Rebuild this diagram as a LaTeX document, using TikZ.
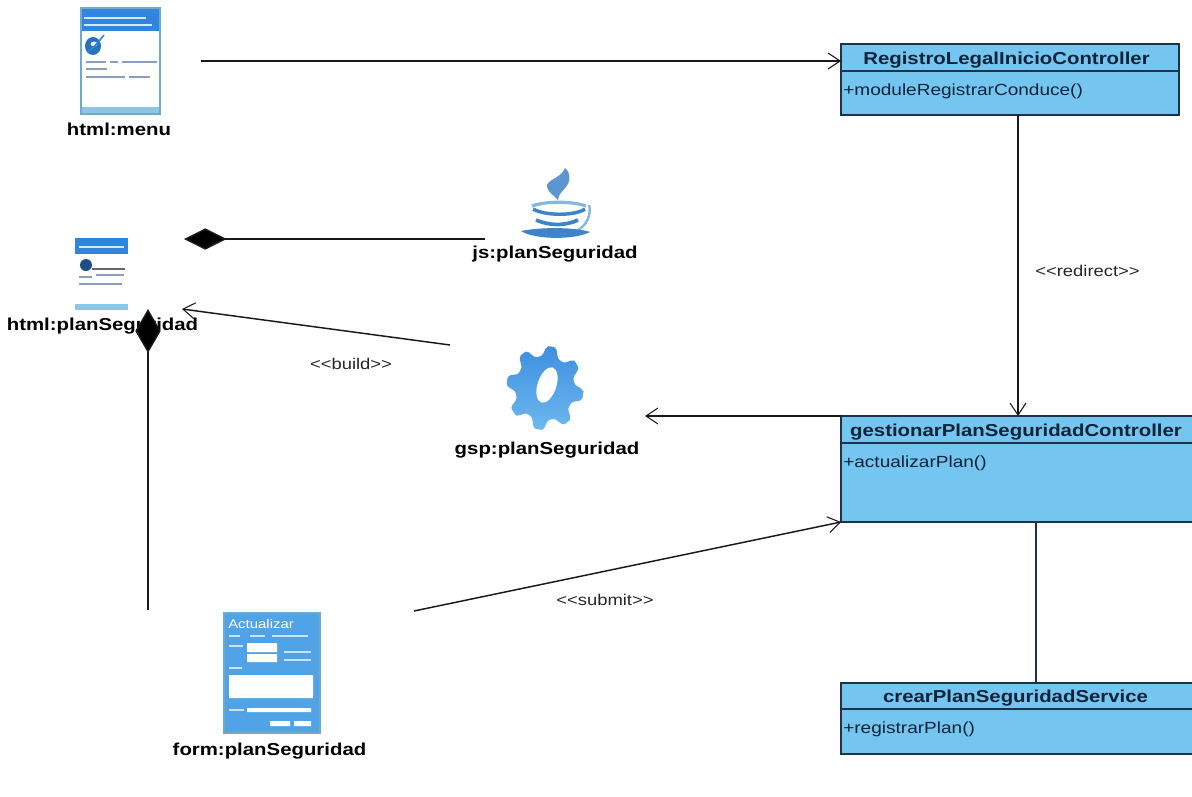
\documentclass[tikz,border=0pt]{standalone}
\usepackage{fontspec}
\setmainfont{Liberation Sans}
\newfontfamily\stretched[FakeStretch=1.18]{Liberation Sans}
\usetikzlibrary{arrows.meta,calc}
\definecolor{clsfill}{HTML}{74C6F0}
\definecolor{clsline}{HTML}{1C3448}
\definecolor{clstext}{HTML}{0E2238}
\definecolor{iconblue}{HTML}{4FA3E6}
\definecolor{iconhead}{HTML}{2F86DC}
\definecolor{iconbar}{HTML}{8CC6E4}
\definecolor{iconframe}{HTML}{6FA9CC}
\definecolor{icontext}{HTML}{8A9CC0}
\definecolor{geartop}{HTML}{3F8FE0}
\definecolor{gearbot}{HTML}{6DB8EE}
\definecolor{cupdark}{HTML}{3F84C8}
\definecolor{cuplight}{HTML}{86B6E2}
\tikzset{
  x=0.75pt,y=-0.75pt,
  conn/.style={line width=1.1pt,color=black!90},
  openarrow/.style={conn,-{Straight Barb[length=9pt,width=12pt,line width=0.8pt]}},
  compo/.style={conn,-{Diamond[length=32pt,width=16pt,fill=black,sep=0pt]}},
  compoup/.style={conn,-{Diamond[length=33pt,width=19pt,fill=black,sep=0pt]}},
  assoc/.style={line width=1.1pt,color=clsline},
  clsbox/.style={draw=clsline,line width=1.1pt,fill=clsfill,inner sep=0pt,outer sep=0pt},
  clstitle/.style={inner sep=0pt,font=\stretched\bfseries\fontsize{12.95}{15}\selectfont,text=clstext},
  clsmethod/.style={anchor=west,inner sep=0pt,font=\stretched\fontsize{12.1}{15}\selectfont,text=clstext},
  iconlabel/.style={inner sep=0pt,font=\stretched\bfseries\fontsize{12.95}{15}\selectfont,text=black},
  stereo/.style={inner sep=0pt,font=\stretched\fontsize{11.7}{14}\selectfont,text=black!85},
  tline/.style={line width=1.1pt,color=icontext},
  wline/.style={line width=1pt,color=white},
}
\begin{document}
\begin{tikzpicture}
\useasboundingbox (0,0) rectangle (1192,796);

% ---- html:menu icon
\node[draw=iconframe,line width=0.8pt,fill=white,minimum width=59pt,minimum height=79.5pt,inner sep=0pt] (menuicon) at (120.5,61) {};
\fill[iconhead] (81,8) rectangle (160,31);
\draw[white!80!iconhead,line width=0.9pt] (84,18) -- (146,18) (84,25) -- (152,25);
\fill[iconbar] (81,107) rectangle (160,114);
\draw[iconframe,line width=0.8pt] (81,8) rectangle (160,114);
\fill[iconhead!85!black,even odd rule] (93,46) ellipse [x radius=8,y radius=9] (94,44) ellipse [x radius=3.5,y radius=2.5];
\draw[iconhead,line width=1.2pt] (87,52) .. controls (93,49) and (100,40) .. (104,35);
\draw[tline] (86,62) -- (106,62) (110,62) -- (118,62) (122,62) -- (157,62) (86,69) -- (107,69) (86,77) -- (125,77) (129,77) -- (150,77);
\node[iconlabel] (menulabel) at (119,129) {html:menu};

% ---- html:planSeguridad icon
\node[inner sep=0pt,minimum width=40pt,minimum height=54pt] (planicon) at (101.5,274) {};
\fill[iconhead] (75,238) rectangle (128,254);
\draw[white!80!iconhead,line width=0.8pt] (79,247) -- (124,247);
\fill[iconhead!60!black] (86,265) circle (6);
\draw[line width=0.8pt,color=black!60] (92,269) -- (125,269);
\draw[tline] (79,277) -- (92,277) (96,275) -- (124,275) (79,284) -- (122,284);
\fill[iconbar] (75,304) rectangle (128,310);
\node[iconlabel] (planlabel) at (102.5,326.5) {html:planSeguridad};

% ---- js icon
\node[inner sep=0pt,minimum width=40pt,minimum height=50pt] (jsicon) at (557,203) {};
\fill[cupdark!85] (565,168) .. controls (571,173) and (570,180) .. (568,184) .. controls (565,190) and (558,193) .. (558,200) .. controls (552,194) and (546,190) .. (547,185) .. controls (549,179) and (561,178) .. (565,168) -- cycle;
\draw[cuplight,line width=2.4pt] (532,206) .. controls (545,201) and (572,201) .. (586,206);
\draw[cupdark,line width=2.6pt] (533,209) .. controls (545,216) and (575,216) .. (585,209);
\draw[cuplight,line width=1.8pt] (589,205) .. controls (592,214) and (586,228) .. (574,232);
\draw[cupdark,line width=2.8pt] (536,220) .. controls (550,226) and (565,226) .. (578,220);
\fill[cupdark] (521,231) .. controls (540,227) and (575,227) .. (590,232) .. controls (575,240) and (535,240) .. (521,231) -- cycle;
\node[iconlabel] (jslabel) at (555,254.5) {js:planSeguridad};

% ---- gsp gear icon
\node[inner sep=0pt,minimum width=57pt,minimum height=62pt] (gspicon) at (545,388) {};
\path[even odd rule,top color=geartop,bottom color=gearbot,rounded corners=2pt]
  plot[domain=0:358,samples=90] ({545+(34+4.5*max(min(2*sin(8*\x+10),1),-1))*cos(\x)},{388+(37+5*max(min(2*sin(8*\x+10),1),-1))*sin(\x)}) -- cycle
  [rotate around={-18:(547,385)}] (547,385) ellipse [x radius=9.5,y radius=18.5];
\node[iconlabel] (gsplabel) at (547,450.5) {gsp:planSeguridad};

% ---- form icon
\node[draw=iconframe,line width=0.8pt,fill=iconblue,minimum width=72pt,minimum height=90pt,inner sep=0pt] (formicon) at (272,673) {};
\node[inner sep=0pt,anchor=west,text=white,font=\stretched\fontsize{9.5}{11}\selectfont] (formtitle) at (228,624) {Actualizar};
\fill[white] (247,643) rectangle (277,652) (247,654) rectangle (277,662) (229,675) rectangle (313,698);
\fill[white] (247,708) rectangle (311,712) (270,721) rectangle (290,726) (294,721) rectangle (311,726);
\draw[line width=1pt,color=white!70!iconblue] (229,636) -- (240,636) (250,636) -- (265,636) (272,636) -- (308,636)
  (229,646) -- (243,646) (284,652) -- (311,652) (284,660) -- (311,660) (229,668) -- (242,668) (229,710) -- (244,710);
\node[iconlabel] (formlabel) at (269.5,751.5) {form:planSeguridad};

% ---- class boxes
\node[clsbox,minimum width=253.5pt,minimum height=53.25pt] (reg) at (1010,79.5) {};
\draw[assoc] (841,71) -- (1179,71);
\node[clstitle] (regtitle) at (1006.5,60) {RegistroLegalInicioController};
\node[clsmethod] (regm) at (843,91) {+moduleRegistrarConduce()};

\node[clsbox,minimum width=264.75pt,minimum height=79.5pt] (ges) at (1017.5,469) {};
\draw[assoc] (841,443) -- (1192,443);
\node[clstitle] (gestitle) at (1016,432) {gestionarPlanSeguridadController};
\node[clsmethod] (gesm) at (843,463) {+actualizarPlan()};

\node[clsbox,minimum width=264.75pt,minimum height=53.25pt] (cre) at (1017.5,718.5) {};
\draw[assoc] (841,709) -- (1192,709);
\node[clstitle] (cretitle) at (1015.5,698) {crearPlanSeguridadService};
\node[clsmethod] (crem) at (843,729) {+registrarPlan()};

% ---- free ends
\coordinate (menuout) at (201,61);
\coordinate (jsout) at (485,239);
\coordinate (planin) at (184,239);
\coordinate (gspout) at (450,345);
\coordinate (planarrow) at (182,309);
\coordinate (formup) at (148,610);
\coordinate (plandown) at (148,309);
\coordinate (gspin) at (645,416);
\coordinate (formout) at (414,611);
\coordinate (redirx) at (1018,0);
\coordinate (linkx) at (1036,0);

% ---- connectors
\draw[openarrow] (menuout) -- (menuout -| reg.west);
\draw[compo] (jsout) -- (planin);
\draw[openarrow] (gspout) -- (planarrow);
\draw[compoup] (formup) -- (plandown);
\draw[openarrow] (reg.south -| redirx) -- (ges.north -| redirx);
\draw[openarrow] (ges.north west) -- (gspin);
\draw[openarrow] (formout) -- (ges.south west);
\draw[assoc] (ges.south -| linkx) -- (cre.north -| linkx);

% ---- stereotypes
\node[stereo] (redirectlabel) at (1087.5,271) {<<redirect>>};
\node[stereo] (buildlabel) at (351,364) {<<build>>};
\node[stereo] (submitlabel) at (605,600) {<<submit>>};
\end{tikzpicture}
\end{document}
